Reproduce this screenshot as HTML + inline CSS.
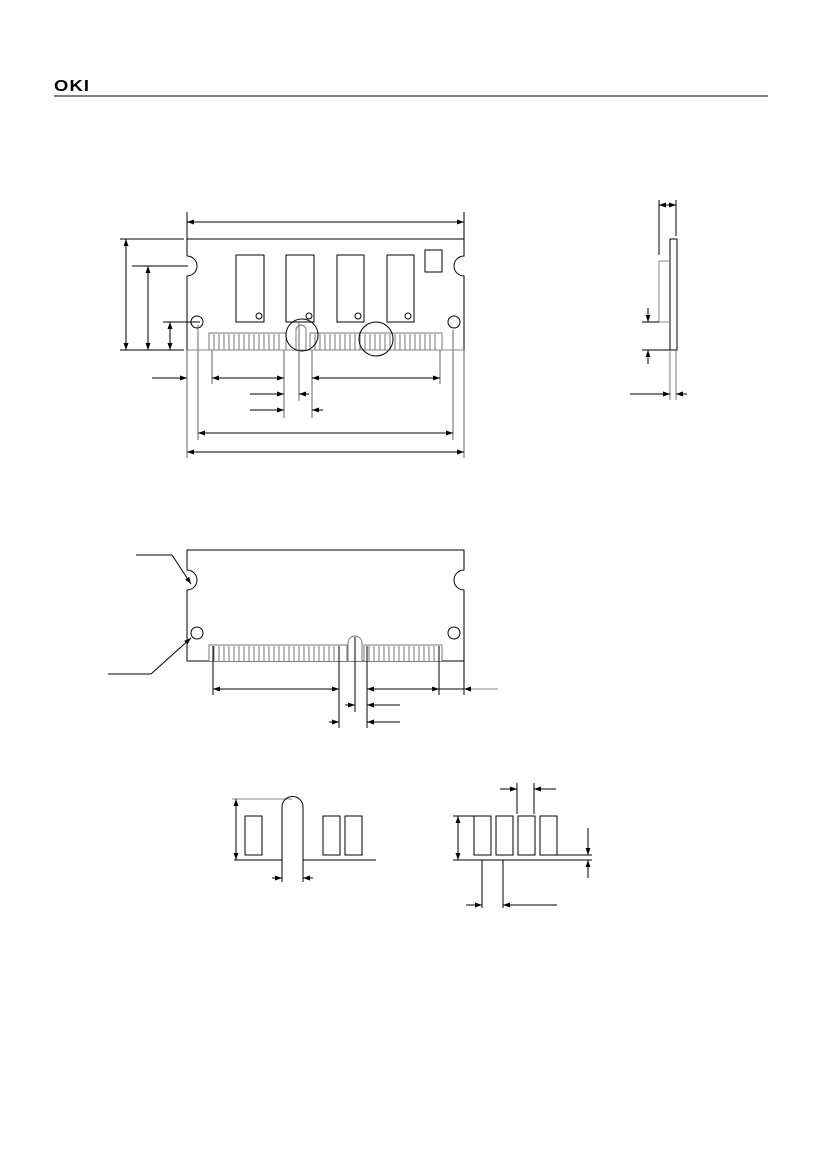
<!DOCTYPE html>
<html><head><style>body{margin:0;background:#fff}svg{display:block}</style></head><body>
<svg width="826" height="1169" viewBox="0 0 826 1169" xmlns="http://www.w3.org/2000/svg">
<defs>
<marker id="a" viewBox="0 0 10 10" refX="10" refY="5" markerWidth="7" markerHeight="7" orient="auto-start-reverse"><path d="M0,1.5L10,5L0,8.5z" fill="#000"/></marker>
</defs>
<text x="54" y="91" font-family="Liberation Sans, sans-serif" font-weight="bold" font-size="16" letter-spacing="1" transform="translate(54,0) scale(1.15,1) translate(-54,0)">OKI</text>
<line x1="54" y1="96" x2="768" y2="96" stroke="#000" stroke-width="1"/>
<g fill="none" stroke="#000" stroke-width="1">
<!-- top module -->
<path d="M187,350V276A10,10 0 0 0 187,256V239H464V256A10,10 0 0 0 464,276V350"/>
<path d="M187,350H464" stroke="#888"/>
<rect x="236" y="255" width="28" height="67"/><rect x="286" y="255" width="28" height="67"/>
<rect x="337" y="255" width="27" height="67"/><rect x="387" y="255" width="27" height="67"/>
<rect x="425" y="250" width="17" height="22"/>
<circle cx="259" cy="316" r="3"/><circle cx="309" cy="316" r="3"/><circle cx="358" cy="316" r="3"/><circle cx="408" cy="316" r="3"/>
<circle cx="197" cy="322" r="6"/><circle cx="454" cy="322" r="6"/>
<path d="M209,350V333H286V350M296,350V330A5,5 0 0 1 306,330V350M310,350V333H442V350" stroke="#777"/>
<path d="M214,334V350M219,334V350M224,334V350M229,334V350M234,334V350M239,334V350M244,334V350M249,334V350M254,334V350M259,334V350M264,334V350M269,334V350M274,334V350M279,334V350M315,334V350M320,334V350M325,334V350M330,334V350M335,334V350M340,334V350M345,334V350M350,334V350M355,334V350M360,334V350M365,334V350M370,334V350M375,334V350M380,334V350M385,334V350M390,334V350M395,334V350M400,334V350M405,334V350M410,334V350M415,334V350M420,334V350M425,334V350M430,334V350M435,334V350" stroke="#555" stroke-width="0.8"/>
<circle cx="302" cy="335" r="16"/><circle cx="376" cy="339" r="17"/>
<!-- top dims -->
<path d="M187,212V239M464,212V239"/><line x1="187" y1="222" x2="464" y2="222" marker-start="url(#a)" marker-end="url(#a)"/>
<path d="M120,239H184M132,266H188M163,322H200M120,350H184"/>
<line x1="126" y1="239" x2="126" y2="350" marker-start="url(#a)" marker-end="url(#a)"/>
<line x1="148" y1="266" x2="148" y2="350" marker-start="url(#a)" marker-end="url(#a)"/>
<line x1="170" y1="322" x2="170" y2="350" marker-start="url(#a)" marker-end="url(#a)"/>
<path d="M187,350V458M464,350V458M212,350V384M284,350V418M312,350V418M440,350V384M198,325V440M453,330V440M299,322V401" stroke="#666"/>
<line x1="152" y1="378" x2="187" y2="378" marker-end="url(#a)"/>
<line x1="212" y1="378" x2="284" y2="378" marker-start="url(#a)" marker-end="url(#a)"/>
<line x1="312" y1="378" x2="440" y2="378" marker-start="url(#a)" marker-end="url(#a)"/>
<line x1="250" y1="394" x2="284" y2="394" marker-end="url(#a)"/><line x1="309" y1="394" x2="299" y2="394" marker-end="url(#a)"/>
<line x1="250" y1="410" x2="284" y2="410" marker-end="url(#a)"/><line x1="323" y1="410" x2="312" y2="410" marker-end="url(#a)"/>
<line x1="198" y1="433" x2="453" y2="433" marker-start="url(#a)" marker-end="url(#a)"/>
<line x1="187" y1="452" x2="464" y2="452" marker-start="url(#a)" marker-end="url(#a)"/>
<!-- side view -->
<rect x="670" y="239" width="7" height="111"/>
<path d="M670,261H659V322H670" stroke="#888"/>
<path d="M659,200V255M676,200V236"/>
<line x1="659" y1="205" x2="676" y2="205" marker-start="url(#a)" marker-end="url(#a)"/>
<path d="M642,322H659M642,350H670"/>
<line x1="648" y1="308" x2="648" y2="322" marker-end="url(#a)"/><line x1="648" y1="364" x2="648" y2="350" marker-end="url(#a)"/>
<path d="M670,350V400M676,350V400" stroke="#777"/>
<line x1="630" y1="394" x2="670" y2="394" marker-end="url(#a)"/><line x1="687" y1="394" x2="676" y2="394" marker-end="url(#a)"/>
<!-- bottom module -->
<path d="M187,550H464V570A10,10 0 0 0 464,590V661H187V590A10,10 0 0 0 187,570Z"/>
<circle cx="197" cy="633" r="6"/><circle cx="454" cy="633" r="6"/>
<path d="M209,661V645H347V661M348,661V643A7,7 0 0 1 362,643V661M364,661V645H442V661" stroke="#777" fill="#fff"/>
<path d="M214,646V661M219,646V661M224,646V661M229,646V661M234,646V661M239,646V661M244,646V661M249,646V661M254,646V661M259,646V661M264,646V661M269,646V661M274,646V661M279,646V661M284,646V661M289,646V661M294,646V661M299,646V661M304,646V661M309,646V661M314,646V661M319,646V661M324,646V661M329,646V661M334,646V661M339,646V661M369,646V661M374,646V661M379,646V661M384,646V661M389,646V661M394,646V661M399,646V661M404,646V661M409,646V661M414,646V661M419,646V661M424,646V661M429,646V661M434,646V661" stroke="#555" stroke-width="0.8"/>
<path d="M136,555H172"/><line x1="172" y1="555" x2="191" y2="584" marker-end="url(#a)"/>
<path d="M108,674H151"/><line x1="151" y1="674" x2="191" y2="638" marker-end="url(#a)"/>
<path d="M213,646V695M339,646V728M355,637V712M367,646V728M439,646V695M464,661V695"/>
<line x1="213" y1="689" x2="339" y2="689" marker-start="url(#a)" marker-end="url(#a)"/>
<line x1="367" y1="689" x2="439" y2="689" marker-start="url(#a)" marker-end="url(#a)"/>
<line x1="439" y1="689" x2="464" y2="689"/>
<line x1="498" y1="689" x2="464" y2="689" marker-end="url(#a)" stroke="#888"/>
<line x1="345" y1="705" x2="355" y2="705" marker-end="url(#a)"/><line x1="400" y1="705" x2="367" y2="705" marker-end="url(#a)"/>
<line x1="329" y1="722" x2="339" y2="722" marker-end="url(#a)"/><line x1="400" y1="722" x2="367" y2="722" marker-end="url(#a)"/>
<!-- detail left -->
<path d="M232,799H292" stroke="#888"/>
<line x1="236" y1="799" x2="236" y2="860" marker-start="url(#a)" marker-end="url(#a)"/>
<path d="M234,860H282V807A10.5,10.5 0 0 1 303,807V860H376"/>
<rect x="245" y="816" width="17" height="39"/><rect x="323" y="816" width="17" height="39"/><rect x="345" y="816" width="17" height="39"/>
<path d="M282,860V882M303,860V882"/>
<line x1="272" y1="878" x2="282" y2="878" marker-end="url(#a)"/><line x1="313" y1="878" x2="303" y2="878" marker-end="url(#a)"/>
<!-- detail right -->
<rect x="474" y="816" width="17" height="39"/><rect x="496" y="816" width="17" height="39"/><rect x="518" y="816" width="17" height="39"/><rect x="540" y="816" width="17" height="39"/>
<path d="M453,860H592M453,816H474M557,855H592"/>
<line x1="458" y1="816" x2="458" y2="860" marker-start="url(#a)" marker-end="url(#a)"/>
<line x1="588" y1="828" x2="588" y2="855" marker-end="url(#a)"/><line x1="588" y1="878" x2="588" y2="860" marker-end="url(#a)"/>
<path d="M517,783V814M534,783V814"/>
<line x1="500" y1="789" x2="517" y2="789" marker-end="url(#a)"/><line x1="556" y1="789" x2="534" y2="789" marker-end="url(#a)"/>
<path d="M482,860V908M503,860V908"/>
<line x1="466" y1="905" x2="482" y2="905" marker-end="url(#a)"/><line x1="557" y1="905" x2="503" y2="905" marker-end="url(#a)"/>
</g>
</svg>
</body></html>
